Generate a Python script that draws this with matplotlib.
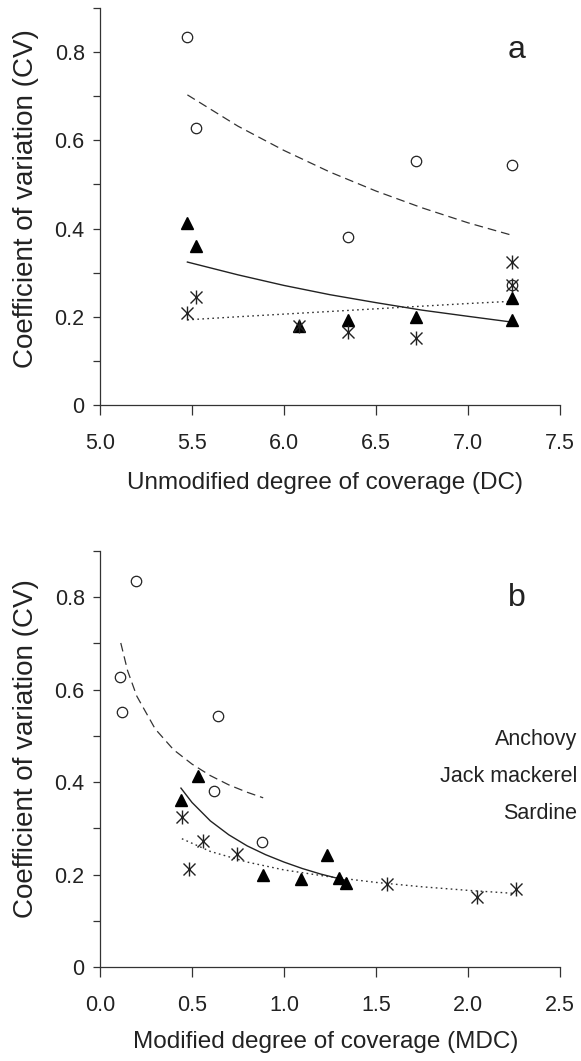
import numpy as np
import matplotlib.pyplot as plt

plt.rcParams['font.family'] = ['Liberation Sans', 'DejaVu Sans']

# panel a: CV against unmodified degree of coverage (DC)
dc_circ = [5.475, 5.52, 6.35, 6.72, 7.24, 7.24]
cv_circ = [0.834, 0.627, 0.380, 0.552, 0.543, 0.271]
dc_tri = [5.475, 5.52, 6.08, 6.35, 6.72, 7.24, 7.24]
cv_tri = [0.413, 0.361, 0.180, 0.192, 0.199, 0.242, 0.193]
dc_star = [5.475, 5.52, 6.08, 6.35, 6.72, 7.24, 7.24]
cv_star = [0.208, 0.245, 0.180, 0.165, 0.152, 0.324, 0.271]

# fitted curves, panel a
dc_fit = [5.475, 5.75, 6.0, 6.25, 6.5, 6.75, 7.0, 7.237]
fit_dash_a = [0.703, 0.632, 0.577, 0.528, 0.485, 0.447, 0.413, 0.385]
fit_solid_a = [0.324, 0.295, 0.271, 0.250, 0.232, 0.215, 0.201, 0.188]
fit_dot_a = [0.193, 0.200, 0.206, 0.212, 0.218, 0.224, 0.230, 0.235]

# panel b: CV against modified degree of coverage (MDC)
mdc_circ = [0.194, 0.109, 0.621, 0.122, 0.639, 0.882]
mdc_tri = [0.530, 0.439, 0.887, 1.094, 1.234, 1.301, 1.338]
cvb_tri = [0.413, 0.361, 0.200, 0.191, 0.243, 0.193, 0.182]
mdc_star = [0.445, 0.561, 0.746, 0.485, 1.561, 2.051, 2.260]
cvb_star = [0.325, 0.272, 0.245, 0.211, 0.180, 0.152, 0.168]

# fitted curves, panel b
x_dash_b = [0.113, 0.15, 0.2, 0.3, 0.4, 0.5, 0.6, 0.7, 0.8, 0.887]
y_dash_b = [0.701, 0.641, 0.586, 0.515, 0.470, 0.439, 0.414, 0.394, 0.378, 0.366]
x_solid_b = [0.44, 0.5, 0.6, 0.7, 0.8, 0.9, 1.0, 1.1, 1.2, 1.34]
y_solid_b = [0.387, 0.356, 0.316, 0.286, 0.262, 0.243, 0.227, 0.213, 0.201, 0.187]
x_dot_b = [0.445, 0.6, 0.8, 1.0, 1.25, 1.5, 1.75, 2.0, 2.26]
y_dot_b = [0.2775, 0.250, 0.227, 0.210, 0.195, 0.183, 0.1735, 0.1658, 0.159]

species = ['Anchovy', 'Jack mackerel', 'Sardine']

yticks = np.arange(0, 0.91, 0.1)
ylabels = ['0', '', '0.2', '', '0.4', '', '0.6', '', '0.8', '']
tc = '#222222'


def star(ax, x, y):
    # asterisk style marker: x with vertical bar
    ax.plot(x, y, ls='none', marker='x', ms=8, mew=1.0, color='#222222', zorder=4)
    ax.plot(x, y, ls='none', marker='|', ms=10, mew=1.0, color='#222222', zorder=4)


def style(ax, xlim, xticks, xlabel, letter, xl_y, yl_y, let_y):
    ax.set_xlim(*xlim)
    ax.set_ylim(0, 0.9)
    ax.set_xticks(xticks)
    ax.set_xticklabels(['%.1f' % t for t in xticks])
    ax.set_yticks(yticks)
    ax.set_yticklabels(ylabels)
    for s in ['top', 'right']:
        ax.spines[s].set_visible(False)
    for s in ['left', 'bottom']:
        ax.spines[s].set_linewidth(0.9)
        ax.spines[s].set_color('#333333')
    ax.tick_params(axis='x', direction='out', length=7, width=0.9, pad=13,
                   labelsize=15.5, colors='#333333', labelcolor=tc)
    ax.tick_params(axis='y', direction='out', length=5, width=0.9, pad=6,
                   labelsize=15.5, colors='#333333', labelcolor=tc)
    ax.set_xlabel(xlabel, fontsize=17.5, color=tc, va='top')
    ax.xaxis.set_label_coords(0.49, xl_y)
    ax.set_ylabel('Coefficient of variation (CV)', fontsize=20, color=tc,
                  va='center')
    ax.yaxis.set_label_coords(-0.161, yl_y)
    ax.text(0.9065, let_y, letter, transform=ax.transAxes, fontsize=23,
            ha='center', va='center', color=tc)


fig = plt.figure(figsize=(5.81, 10.61), dpi=100)
ax1 = fig.add_axes([0.1721, 0.6183, 0.7917, 0.3742])
ax2 = fig.add_axes([0.1721, 0.0886, 0.7917, 0.3921])

# panel a
ax1.plot(dc_fit, fit_dash_a, color='#333333', lw=0.9, dashes=(7, 4))
ax1.plot(dc_fit, fit_solid_a, color='#222222', lw=1.0)
ax1.plot(dc_fit, fit_dot_a, color='#333333', lw=1.0, dashes=(1.2, 2.4))
ax1.plot(dc_circ, cv_circ, ls='none', marker='o', ms=7.5, mfc='white',
         mec='#222222', mew=0.9, zorder=3)
ax1.plot(dc_tri, cv_tri, ls='none', marker='^', ms=8, color='black', zorder=3)
star(ax1, dc_star, cv_star)
style(ax1, (5.0, 7.5), [5.0, 5.5, 6.0, 6.5, 7.0, 7.5],
      'Unmodified degree of coverage (DC)', 'a', -0.168, 0.521, 0.894)

# panel b
ax2.plot(x_dash_b, y_dash_b, color='#333333', lw=0.9, dashes=(7, 4))
ax2.plot(x_solid_b, y_solid_b, color='#222222', lw=1.0)
ax2.plot(x_dot_b, y_dot_b, color='#333333', lw=1.0, dashes=(1.2, 2.4))
ax2.plot(mdc_circ, cv_circ, ls='none', marker='o', ms=7.5, mfc='white',
         mec='#222222', mew=0.9, zorder=3)
ax2.plot(mdc_tri, cvb_tri, ls='none', marker='^', ms=8, color='black', zorder=3)
star(ax2, mdc_star, cvb_star)
style(ax2, (0.0, 2.5), [0.0, 0.5, 1.0, 1.5, 2.0, 2.5],
      'Modified degree of coverage (MDC)', 'b', -0.154, 0.524, 0.887)

for i, name in enumerate(species):
    ax2.text(1.037, 0.546 - i * 0.088, name, transform=ax2.transAxes,
             ha='right', va='center', fontsize=15.5, color=tc)

fig.savefig('out.png', dpi=100)
